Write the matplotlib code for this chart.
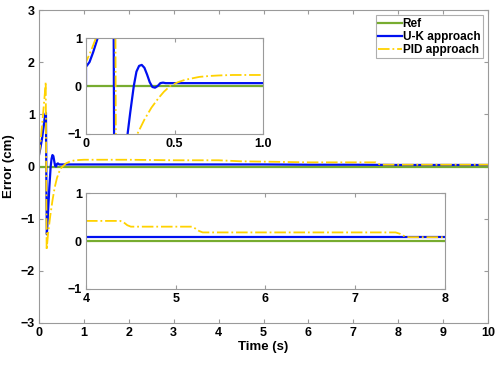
import numpy as np
import matplotlib
matplotlib.use("Agg")
import matplotlib.pyplot as plt

plt.rcParams['font.family'] = ['Liberation Sans', 'DejaVu Sans']
plt.rcParams['font.weight'] = 'bold'

# main plot data
t_uk = [0, 0.03, 0.07, 0.1, 0.13, 0.155, 0.165, 0.175, 0.2, 0.23, 0.26, 0.28, 0.3, 0.32,
        0.34, 0.36, 0.38, 0.4, 0.42, 0.45, 0.5, 1, 2, 3, 4, 5, 6, 7, 8, 9, 10]
e_uk = [0.22, 0.35, 0.55, 0.75, 0.95, 1.03, -0.4, -1.3, -0.9, -0.4, 0.0, 0.15, 0.22, 0.2,
        0.1, 0.01, 0.0, 0.05, 0.06, 0.04, 0.04, 0.04, 0.04, 0.04, 0.04, 0.04, 0.035, 0.035,
        0.03, 0.03, 0.03]

t_pid = [0, 0.03, 0.07, 0.1, 0.13, 0.15, 0.16, 0.17, 0.2, 0.25, 0.3, 0.35, 0.4, 0.45,
         0.5, 0.6, 0.7, 0.8, 1.0, 2, 3, 4, 4.5, 5.3, 6, 7, 7.5, 7.6, 8, 9, 10]
e_pid = [0.2, 0.45, 0.8, 1.1, 1.4, 1.62, 0.0, -1.6, -1.3, -0.95, -0.65, -0.4, -0.22, -0.1,
         -0.02, 0.06, 0.1, 0.12, 0.13, 0.13, 0.12, 0.12, 0.1, 0.09, 0.08, 0.08, 0.08, 0.035,
         0.035, 0.035, 0.035]

# inset 1 (0 - 1 s)
t_in1_uk = [0, 0.0, 0.02, 0.04, 0.066, 0.1, 0.155, 0.16, 0.2, 0.235, 0.25, 0.27, 0.285,
            0.3, 0.315, 0.33, 0.345, 0.36, 0.375, 0.39, 0.405, 0.42, 0.435, 0.45, 0.5,
            0.7, 1.0]
e_in1_uk = [0, 0.4, 0.5, 0.7, 1.0, 1.6, 2.5, -2.5, -1.8, -1.0, -0.55, 0.0, 0.3,
            0.42, 0.44, 0.38, 0.24, 0.08, -0.02, -0.035, 0.0, 0.06, 0.07, 0.06, 0.06,
            0.06, 0.06]
t_in1_pid = [0, 0.0, 0.03, 0.056, 0.1, 0.165, 0.17, 0.22, 0.29, 0.33, 0.37, 0.41, 0.44,
             0.475, 0.52, 0.56, 0.6, 0.64, 0.7, 0.75, 0.83, 1.0]
e_in1_pid = [0, 0.5, 0.75, 1.0, 1.8, 2.5, -2.5, -1.8, -1.0, -0.7, -0.45, -0.25, -0.12,
             0.0, 0.08, 0.13, 0.16, 0.19, 0.21, 0.22, 0.23, 0.23]

# inset 2 (4 - 8 s)
t_in2_uk = [4, 8]
e_in2_uk = [0.08, 0.08]
t_in2_pid = [4, 4.38, 4.42, 4.46, 4.5, 5.18, 5.22, 5.26, 5.3, 7.45, 7.5, 7.55, 7.6, 8]
e_in2_pid = [0.42, 0.42, 0.39, 0.33, 0.30, 0.30, 0.26, 0.21, 0.18, 0.18, 0.15, 0.1, 0.08, 0.08]

green = '#77AC30'
blue = '#0010F0'
yellow = '#FFD200'
grey = '#9A9A9A'


def style(ax):
    for s in ax.spines.values():
        s.set_color(grey)
    ax.tick_params(direction='in', top=True, right=True, color=grey,
                   labelsize=9, length=3, pad=3)
    for lab in ax.get_xticklabels() + ax.get_yticklabels():
        lab.set_fontweight('bold')


fig = plt.figure(figsize=(5, 3.66), dpi=100)
ax = fig.add_axes([0.078, 0.1175, 0.898, 0.855])
ax.plot([0, 10], [0, 0], color=green, lw=1.6, label='Ref')
ax.plot(t_uk, e_uk, color=blue, lw=1.6, label='U-K approach')
ax.plot(t_pid, e_pid, color=yellow, lw=1.3, ls='-.', label='PID approach')
ax.set_xlim(0, 10)
ax.set_ylim(-3, 3)
ax.set_xticks(range(0, 11))
ax.set_yticks(range(-3, 4))
ax.set_xlabel('Time (s)', fontsize=9.5, fontweight='bold', labelpad=1)
ax.set_ylabel('Error (cm)', fontsize=9.5, fontweight='bold', labelpad=4)
style(ax)
leg = ax.legend(loc='upper right', fontsize=8.5, frameon=True, fancybox=False,
                borderaxespad=0.45, handlelength=2.0, handletextpad=0.1,
                labelspacing=0.1, borderpad=0.2)
leg.get_frame().set_edgecolor(grey)
leg.get_frame().set_linewidth(0.8)
for txt in leg.get_texts():
    txt.set_fontweight('bold')

ax1 = fig.add_axes([0.172, 0.634, 0.354, 0.262])
ax1.plot([0, 1], [0, 0], color=green, lw=1.6)
ax1.plot(t_in1_uk, e_in1_uk, color=blue, lw=1.6)
ax1.plot(t_in1_pid, e_in1_pid, color=yellow, lw=1.3, ls='-.')
ax1.set_xlim(0, 1)
ax1.set_ylim(-1, 1)
ax1.set_xticks([0, 0.5, 1.0])
ax1.set_xticklabels(['0', '0.5', '1.0'])
ax1.set_yticks([-1, 0, 1])
style(ax1)

ax2 = fig.add_axes([0.172, 0.2104, 0.718, 0.262])
ax2.plot([4, 8], [0, 0], color=green, lw=1.6)
ax2.plot(t_in2_uk, e_in2_uk, color=blue, lw=1.6)
ax2.plot(t_in2_pid, e_in2_pid, color=yellow, lw=1.3, ls='-.')
ax2.set_xlim(4, 8)
ax2.set_ylim(-1, 1)
ax2.set_xticks([4, 5, 6, 7, 8])
ax2.set_yticks([-1, 0, 1])
style(ax2)

fig.savefig('out.png', dpi=100)
